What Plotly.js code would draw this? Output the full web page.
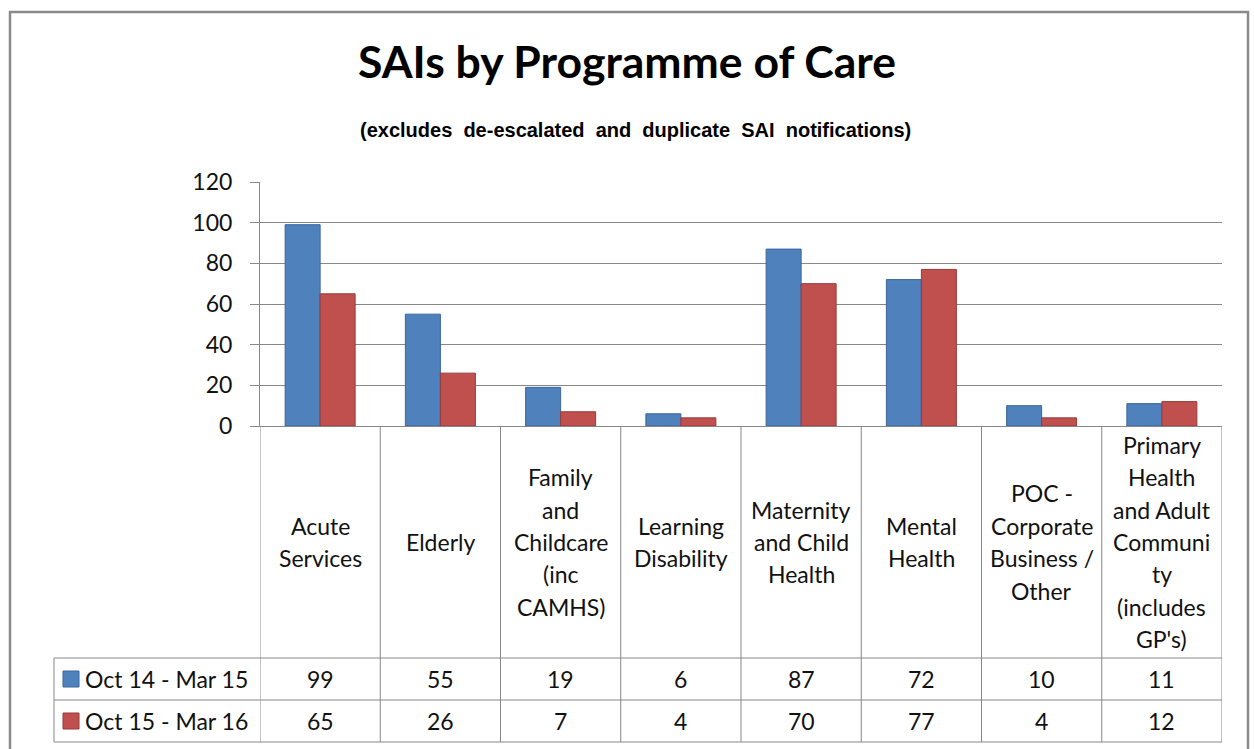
<!DOCTYPE html>
<html>
<head>
<meta charset="utf-8">
<script src="https://cdn.plot.ly/plotly-3.0.1.min.js"></script>
<style>html,body{margin:0;padding:0;background:#fff;}#chart{width:1254px;height:749px;}</style>
</head>
<body>
<div id="chart"></div>
<script>
// ---- data ----
const categories = ['Acute<br>Services', 'Elderly', 'Family<br>and<br>Childcare<br>(inc<br>CAMHS)', 'Learning<br>Disability', 'Maternity<br>and Child<br>Health', 'Mental<br>Health', 'POC -<br>Corporate<br>Business /<br>Other', 'Primary<br>Health<br>and Adult<br>Communi<br>ty<br>(includes<br>GP\'s)'];
const seriesNames = ['Oct 14 - Mar 15', 'Oct 15 - Mar 16'];
const oct14Mar15 = [99, 55, 19, 6, 87, 72, 10, 11];
const oct15Mar16 = [65, 26, 7, 4, 70, 77, 4, 12];
const yTicks = [0, 20, 40, 60, 80, 100, 120];
const titleText = 'SAIs by Programme of Care';
const subtitleText = '(excludes de-escalated and duplicate SAI notifications)';

// ---- layout constants ----
const W = 1254, H = 749;
const L = 260, R = 1222, T = 182, B = 426;
const plotH = B - T;
const py = p => (B - p) / plotH;          // pixel y -> paper y
const px = p => (p - L) / (R - L);        // pixel x -> paper x
const fillColors = ['#4F81BD', '#C0504D'];
const lineColors = ['#3A6699', '#953B39'];
const seriesVals = [oct14Mar15, oct15Mar16];
const gridCol = '#878787';
const font = 'Lato, "Open Sans", sans-serif';

const xIdx = categories.map((c, i) => i);

const traces = seriesVals.map((vals, s) => ({
  type: 'bar',
  name: seriesNames[s],
  x: xIdx,
  y: vals,
  marker: {color: fillColors[s], line: {color: lineColors[s], width: 1}},
  hoverinfo: 'skip'
}));

const shapes = [];
const annotations = [];
const rowTop = 658, rowMid = 700, rowBot = 742, leftX = 54;

// outer chart border
shapes.push({type: 'rect', xref: 'paper', yref: 'paper', x0: px(10), x1: px(1248), y0: py(12), y1: py(760),
  line: {color: '#8a8a8a', width: 2.5}, fillcolor: 'rgba(0,0,0,0)'});

// vertical category boundaries through the data table
for (let k = 0; k <= categories.length; k++) {
  shapes.push({type: 'line', xref: 'x', yref: 'paper', x0: k - 0.5, x1: k - 0.5, y0: py(B), y1: py(rowBot),
    line: {color: gridCol, width: 1}});
}
// horizontal table lines
[rowTop, rowMid, rowBot].forEach(yy => {
  shapes.push({type: 'line', xref: 'paper', yref: 'paper', x0: px(leftX), x1: 1, y0: py(yy), y1: py(yy),
    line: {color: gridCol, width: 1}});
});
shapes.push({type: 'line', xref: 'paper', yref: 'paper', x0: px(leftX), x1: px(leftX), y0: py(rowTop), y1: py(rowBot),
  line: {color: gridCol, width: 1}});

// category labels (one annotation per line for Excel-like line spacing)
const lineGap = 32.4, labelCenter = (B + rowTop) / 2;
categories.forEach((c, i) => {
  const lines = c.split('<br>');
  lines.forEach((ln, j) => {
    const yy = labelCenter + (j - (lines.length - 1) / 2) * lineGap;
    annotations.push({xref: 'x', yref: 'paper', x: i, y: py(yy), text: ln, showarrow: false,
      xanchor: 'center', yanchor: 'middle', font: {family: font, size: 23, color: '#111'}});
  });
});

// values rows + legend keys
const rowCenters = [(rowTop + rowMid) / 2, (rowMid + rowBot) / 2];
seriesVals.forEach((vals, s) => {
  vals.forEach((v, i) => {
    annotations.push({xref: 'x', yref: 'paper', x: i, y: py(rowCenters[s]), text: String(v), showarrow: false,
      xanchor: 'center', yanchor: 'middle', font: {family: font, size: 23, color: '#111'}});
  });
  annotations.push({xref: 'paper', yref: 'paper', x: px(83), y: py(rowCenters[s]), text: seriesNames[s], showarrow: false,
    xanchor: 'left', yanchor: 'middle', font: {family: font, size: 23, color: '#111'}});
  shapes.push({type: 'rect', xref: 'paper', yref: 'paper', x0: px(63), x1: px(79), y0: py(rowCenters[s] - 8), y1: py(rowCenters[s] + 8),
    fillcolor: fillColors[s], line: {color: lineColors[s], width: 1}});
});

// subtitle
annotations.push({xref: 'paper', yref: 'paper', x: px(635), y: py(130), text: subtitleText.split(' ').join(' \u00a0'),
  showarrow: false, xanchor: 'center', yanchor: 'middle',
  font: {family: '"Liberation Sans", Arial, sans-serif', size: 20, color: '#000', weight: 'bold'}});

const layout = {
  width: W, height: H,
  margin: {l: L, r: W - R, t: T, b: H - B, pad: 0},
  paper_bgcolor: '#fff', plot_bgcolor: '#fff',
  showlegend: false,
  barmode: 'group', bargap: 0.418, bargroupgap: 0,
  title: {text: '<b>' + titleText + '</b>', x: 0.5, xanchor: 'center', xref: 'container',
    y: 1 - 62 / H, yanchor: 'middle', yref: 'container',
    font: {family: font, size: 44.5, color: '#000'}},
  xaxis: {type: 'linear', range: [-0.5, categories.length - 0.5], showticklabels: false, showgrid: false,
    zeroline: false, showline: true, linecolor: gridCol, linewidth: 1, ticks: '', fixedrange: true},
  yaxis: {range: [0, 120], tickvals: yTicks, ticktext: yTicks.map(String), showgrid: true, gridcolor: gridCol, gridwidth: 1,
    zeroline: false, showline: true, linecolor: gridCol, linewidth: 1, ticks: 'outside', ticklen: 9, tickcolor: gridCol,
    ticklabelstandoff: 13, tickfont: {family: font, size: 23, color: '#111'}, fixedrange: true},
  shapes: shapes,
  annotations: annotations
};

Plotly.newPlot('chart', traces, layout, {displayModeBar: false, staticPlot: true});
</script>
</body>
</html>
